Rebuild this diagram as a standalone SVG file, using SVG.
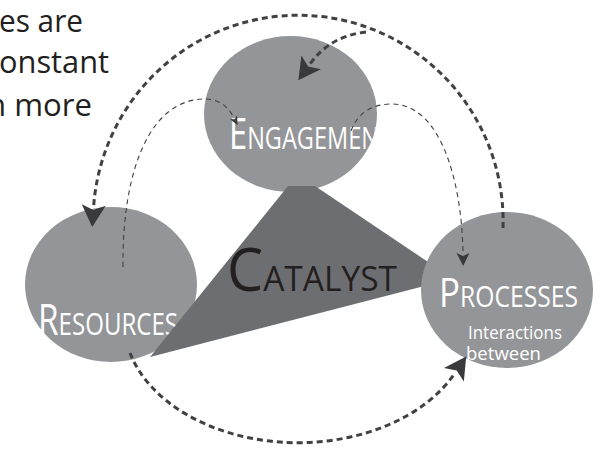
<svg xmlns="http://www.w3.org/2000/svg" width="604" height="451" viewBox="0 0 604 451">
<style>
.node{fill:#939598}
.lbl{fill:#ffffff;font-family:"Open Sans","Noto Sans",sans-serif}
.dark{fill:#231f20;font-family:"Open Sans","Noto Sans",sans-serif}
.thick{fill:none;stroke:#414042;stroke-width:3;stroke-dasharray:6 4}
.thin{fill:none;stroke:#414042;stroke-width:1.1;stroke-dasharray:5 4}
.ah{fill:#3a3a3c}
</style>
<defs>
<marker id="big" markerUnits="userSpaceOnUse" orient="auto" viewBox="-4 -13 26 26" markerWidth="26" markerHeight="26" refX="0" refY="0">
<path class="ah" d="M-2,-12 L20,0 L-2,12 L3,0 Z"/>
</marker>
<marker id="small" markerUnits="userSpaceOnUse" orient="auto" viewBox="-2 -7 15 14" markerWidth="15" markerHeight="14" refX="0" refY="0">
<path class="ah" d="M-1,-6.5 L12,0 L-1,6.5 L2,0 Z"/>
</marker>
<marker id="tiny" markerUnits="userSpaceOnUse" orient="auto" viewBox="-2 -5 11 10" markerWidth="11" markerHeight="10" refX="0" refY="0">
<path class="ah" d="M-1,-4 L8,0 L-1,4 L1.5,0 Z"/>
</marker>
<clipPath id="engClip"><ellipse cx="290.5" cy="114" rx="86.5" ry="78"/></clipPath>
</defs>

<g id="intro-text">
<text class="dark" x="-1" y="32" font-size="31" textLength="84" lengthAdjust="spacingAndGlyphs">es are</text>
<text class="dark" x="-1" y="73" font-size="31" textLength="110" lengthAdjust="spacingAndGlyphs">onstant</text>
<text class="dark" x="-13" y="116" font-size="31" textLength="105" lengthAdjust="spacingAndGlyphs">n more</text>
</g>

<g id="engagement">
<ellipse class="node" cx="290.5" cy="114" rx="86.5" ry="78"/>
<g clip-path="url(#engClip)">
<text class="lbl" x="229" y="148.5" font-size="31" textLength="150" lengthAdjust="spacingAndGlyphs"><tspan font-size="43">E</tspan>NGAGEMEN</text>
</g>
</g>

<g id="resources">
<ellipse class="node" cx="111" cy="284.5" rx="86" ry="77.5"/>
<text class="lbl" x="38" y="335" font-size="31" textLength="140" lengthAdjust="spacingAndGlyphs"><tspan font-size="43">R</tspan>ESOURCES</text>
</g>

<g id="catalyst">
<polygon points="288,186 315,186 440,270 440,282 150,357" fill="#6d6e71"/>
<text class="dark" x="227" y="291" font-size="35" textLength="170" lengthAdjust="spacingAndGlyphs"><tspan font-size="60">C</tspan>ATALYST</text>
</g>

<g id="processes">
<ellipse class="node" cx="507" cy="290" rx="86" ry="78"/>
<text class="lbl" x="439" y="307" font-size="29" textLength="139" lengthAdjust="spacingAndGlyphs"><tspan font-size="41">P</tspan>ROCESSES</text>
<text class="lbl" font-size="19"><tspan x="468" y="338.5" textLength="94" lengthAdjust="spacingAndGlyphs">Interactions</tspan><tspan x="466" y="360" textLength="75" lengthAdjust="spacingAndGlyphs">between</tspan></text>
</g>

<g id="connectors">
<path class="thick" d="M503,228 A205,206 0 0 0 93.6,207" marker-end="url(#big)"/>
<path class="thick" d="M366,32 Q330,36 310,64" marker-end="url(#big)"/>
<path class="thin" d="M123,267 C122,170 150,99 205,99 C220,99 229,108 234,118" marker-end="url(#tiny)"/>
<path class="thin" d="M351,131 C358,112 373,104 392,104 C440,104 462,180 463,254" marker-end="url(#small)"/>
<path class="thick" d="M130,353 A174,122 0 0 0 455,373" marker-end="url(#big)"/>
</g>
</svg>
